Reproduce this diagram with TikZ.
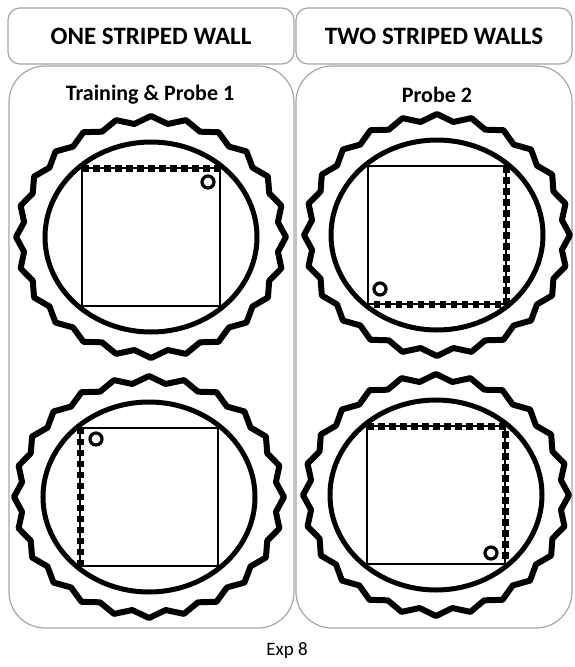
\documentclass[tikz,border=0pt]{standalone}
\usepackage{fontspec}
\setmainfont{Carlito}
\usetikzlibrary{positioning}
\definecolor{frame}{HTML}{A6A6A6}

\begin{document}
\begin{tikzpicture}[
  x=1pt, y=-1pt,
  hdr/.style={draw=frame, line width=1.2pt, rounded corners=12pt,
    minimum height=56pt, inner sep=0pt,
    font=\fontsize{25}{30}\selectfont\bfseries},
  panel/.style={draw=frame, line width=1.2pt, rounded corners=36pt},
  title/.style={font=\fontsize{22}{26}\selectfont\bfseries},
  rim/.style={line width=6pt, line join=round},
  wall/.style={line width=5pt},
  pool/.style={line width=1.6pt},
  stripe/.style={line width=7pt, dash pattern=on 6.5pt off 4.5pt},
  goal/.style={circle, draw, line width=3.2pt, minimum size=12pt, inner sep=0pt},
]
\useasboundingbox (0,0) rectangle (574,667);

% headers
\node[hdr, minimum width=286pt] (oneHdr) at (151,36) {ONE STRIPED WALL};
\node[hdr, minimum width=276pt] (twoHdr) at (434,36) {TWO STRIPED WALLS};

% panels
\draw[panel] (9,66) rectangle (294,628);
\draw[panel] (296,66) rectangle (572,628);
\node[title] (trainTitle) at (150,95) {Training \& Probe 1};
\node[title] (probeTitle) at (437,95) {Probe 2};

% arena 1: top wall striped
\begin{scope}[shift={(151,237)}]
  \draw[rim] plot[domain=0:360, samples=49]
    ({(131.5+3.5*cos(24*\x))*cos(\x)}, {(117.5+3.5*cos(24*\x))*sin(\x)}) -- cycle;
  \draw[wall] (0,0) ellipse [x radius=106, y radius=95];
  \draw[pool] (-69,-69) rectangle (69,69);
  \draw[stripe] (-69,-69) -- (69,-69);
  \node[goal] (goalA) at (57,-55) {};
\end{scope}

% arena 2: right and bottom walls striped
\begin{scope}[shift={(437,235)}]
  \draw[rim] plot[domain=0:360, samples=49]
    ({(129.5+3.5*cos(24*\x))*cos(\x)}, {(117.5+3.5*cos(24*\x))*sin(\x)}) -- cycle;
  \draw[wall] (0,0) ellipse [x radius=106, y radius=95];
  \draw[pool] (-69,-69) rectangle (69,69);
  \draw[stripe] (69,-69) -- (69,69) -- (-69,69);
  \node[goal] (goalB) at (-57,54) {};
\end{scope}

% arena 3: left wall striped
\begin{scope}[shift={(149,497)}]
  \draw[rim] plot[domain=0:360, samples=49]
    ({(131.5+3.5*cos(24*\x))*cos(\x)}, {(117.5+3.5*cos(24*\x))*sin(\x)}) -- cycle;
  \draw[wall] (0,0) ellipse [x radius=106, y radius=95];
  \draw[pool] (-69,-69) rectangle (69,69);
  \draw[stripe] (-69,69) -- (-69,-69);
  \node[goal] (goalC) at (-53,-58) {};
\end{scope}

% arena 4: top and right walls striped
\begin{scope}[shift={(436,495)}]
  \draw[rim] plot[domain=0:360, samples=49]
    ({(129.5+3.5*cos(24*\x))*cos(\x)}, {(117.5+3.5*cos(24*\x))*sin(\x)}) -- cycle;
  \draw[wall] (0,0) ellipse [x radius=106, y radius=95];
  \draw[pool] (-69,-69) rectangle (69,69);
  \draw[stripe] (-69,-69) -- (69,-69) -- (69,69);
  \node[goal] (goalD) at (55,58) {};
\end{scope}

\node[font=\fontsize{19}{23}\selectfont] (expLabel) at (287,651) {Exp 8};
\end{tikzpicture}
\end{document}
